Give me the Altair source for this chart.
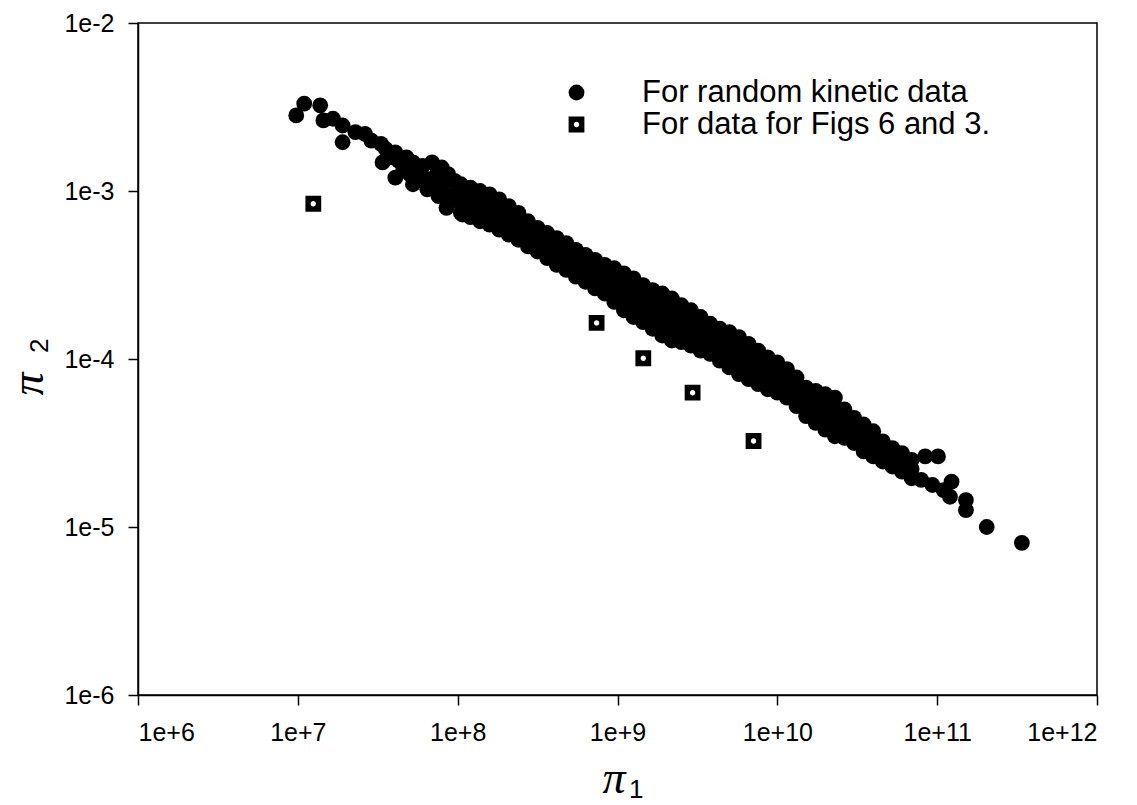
import altair as alt
import pandas as pd

# ---- data: log10(pi1), log10(pi2) ----
# isolated points and the start of the cloud (pi1 < 1e8)
random_early = [
    (6.99, -2.55), (7.04, -2.48), (7.14, -2.49), (7.16, -2.58), (7.22, -2.57),
    (7.28, -2.61), (7.28, -2.71), (7.36, -2.65), (7.42, -2.66), (7.46, -2.70),
    (7.52, -2.72), (7.55, -2.75), (7.53, -2.83), (7.61, -2.77), (7.63, -2.82),
    (7.61, -2.92), (7.66, -2.87), (7.72, -2.83), (7.72, -2.96), (7.77, -2.89),
    (7.84, -2.83), (7.81, -2.99), (7.84, -2.93), (7.90, -2.86), (7.90, -2.97),
    (7.93, -3.10), (7.96, -3.03), (7.98, -2.94), (8.03, -3.14), (7.58, -2.80),
    (7.68, -2.80), (7.70, -2.90), (7.78, -2.85), (7.80, -2.94), (7.87, -2.90),
    (7.88, -3.03), (7.94, -2.90), (7.94, -3.06), (7.99, -3.00),
]

# main cloud: one entry per pi1 column, with the pi2 values stacked there
random_band = [
    (8.02, [-2.96, -3.02, -3.075, -3.13]),
    (8.08, [-2.98, -3.04, -3.10, -3.155]),
    (8.14, [-3.00, -3.06, -3.12, -3.18]),
    (8.20, [-3.02, -3.08, -3.14, -3.20]),
    (8.26, [-3.05, -3.11, -3.17, -3.23]),
    (8.32, [-3.09, -3.15, -3.20, -3.26]),
    (8.38, [-3.13, -3.18, -3.24, -3.29]),
    (8.44, [-3.18, -3.23, -3.28, -3.33]),
    (8.50, [-3.22, -3.27, -3.31, -3.36]),
    (8.56, [-3.25, -3.30, -3.35, -3.40]),
    (8.62, [-3.28, -3.33, -3.39, -3.44]),
    (8.68, [-3.31, -3.36, -3.42, -3.47]),
    (8.74, [-3.35, -3.40, -3.46, -3.51]),
    (8.80, [-3.38, -3.43, -3.49, -3.54]),
    (8.86, [-3.41, -3.47, -3.52, -3.58]),
    (8.92, [-3.44, -3.50, -3.55, -3.61]),
    (8.98, [-3.46, -3.51, -3.56, -3.61, -3.66]),
    (9.04, [-3.49, -3.545, -3.60, -3.655, -3.71]),
    (9.10, [-3.52, -3.58, -3.64, -3.69, -3.75]),
    (9.16, [-3.56, -3.615, -3.67, -3.725, -3.78]),
    (9.22, [-3.59, -3.65, -3.71, -3.76, -3.82]),
    (9.28, [-3.61, -3.67, -3.73, -3.80, -3.86]),
    (9.34, [-3.64, -3.70, -3.76, -3.83, -3.89]),
    (9.40, [-3.68, -3.735, -3.79, -3.845, -3.90]),
    (9.46, [-3.71, -3.76, -3.815, -3.865, -3.92]),
    (9.52, [-3.75, -3.80, -3.85, -3.90, -3.95]),
    (9.58, [-3.79, -3.85, -3.91, -3.97]),
    (9.64, [-3.82, -3.885, -3.945, -4.01]),
    (9.70, [-3.84, -3.89, -3.945, -4.00, -4.05]),
    (9.76, [-3.87, -3.925, -3.98, -4.035, -4.09]),
    (9.82, [-3.91, -3.96, -4.015, -4.065, -4.12]),
    (9.88, [-3.95, -4.00, -4.05, -4.10, -4.15]),
    (9.94, [-3.99, -4.055, -4.115, -4.18]),
    (10.00, [-4.02, -4.08, -4.14, -4.20]),
    (10.06, [-4.06, -4.115, -4.17, -4.23]),
    (10.12, [-4.11, -4.17, -4.225, -4.28]),
    (10.18, [-4.17, -4.23, -4.285, -4.34]),
    (10.24, [-4.19, -4.255, -4.315, -4.38]),
    (10.30, [-4.21, -4.26, -4.315, -4.365, -4.42]),
    (10.36, [-4.23, -4.29, -4.345, -4.40, -4.46]),
    (10.42, [-4.30, -4.355, -4.41, -4.47]),
    (10.48, [-4.35, -4.40, -4.45, -4.50]),
    (10.54, [-4.39, -4.445, -4.50, -4.55]),
    (10.60, [-4.43, -4.48, -4.53, -4.58]),
    (10.66, [-4.49, -4.55, -4.61]),
    (10.72, [-4.53, -4.585, -4.64]),
    (10.78, [-4.56, -4.615, -4.67]),
    (10.84, [-4.60, -4.655, -4.71]),
    (10.90, [-4.72]),
]

# end of the cloud (pi1 > 8e10)
random_tail = [
    (10.925, -4.58), (11.005, -4.58), (10.97, -4.75), (11.04, -4.78),
    (11.09, -4.73), (11.08, -4.82), (11.18, -4.84), (11.18, -4.90),
    (11.31, -5.00), (11.53, -5.095),
]

# the five hollow squares (data for Figs 6 and 3)
figs_pi1 = [1.25e7, 7.4e8, 1.45e9, 2.95e9, 7.1e9]
figs_pi2 = [8.4e-4, 1.64e-4, 1.01e-4, 6.3e-5, 3.25e-5]

series_names = ["For random kinetic data", "For data for Figs 6 and 3."]
x_ticks = [1e6, 1e7, 1e8, 1e9, 1e10, 1e11, 1e12]
y_ticks = [1e-6, 1e-5, 1e-4, 1e-3, 1e-2]

rows = []
pairs = list(random_early)
for lx, ys in random_band:
    pairs += [(lx, ly) for ly in ys]
pairs += random_tail
for lx, ly in pairs:
    rows.append({"pi1": 10 ** lx, "pi2": 10 ** ly, "series": series_names[0]})
for a, b in zip(figs_pi1, figs_pi2):
    rows.append({"pi1": a, "pi2": b, "series": series_names[1]})
df = pd.DataFrame(rows)

# square with a small round hole in the middle
square_hole = ("M-1,-1H1V1H-1Z "
               "M-0.34,0A0.34,0.34,0,1,0,0.34,0A0.34,0.34,0,1,0,-0.34,0Z")

FONT = "Liberation Sans"

points = alt.Chart(df).mark_point(
    filled=True, color="black", opacity=1, size=250, strokeWidth=0
).encode(
    x=alt.X("pi1:Q",
            scale=alt.Scale(type="log", domain=[1e6, 1e12], nice=False),
            axis=alt.Axis(values=x_ticks, title=None, grid=False,
                          labelExpr="'1e+' + round(log(datum.value)/LN10)",
                          labelPadding=15)),
    y=alt.Y("pi2:Q",
            scale=alt.Scale(type="log", domain=[1e-6, 1e-2], nice=False),
            axis=alt.Axis(values=y_ticks, title=None, grid=False,
                          labelExpr="'1e' + round(log(datum.value)/LN10)",
                          labelPadding=14)),
    shape=alt.Shape("series:N",
                    scale=alt.Scale(domain=series_names,
                                    range=["circle", square_hole]),
                    legend=alt.Legend(title=None, orient="none",
                                      legendX=423, legendY=54,
                                      labelFontSize=31, labelFont=FONT,
                                      labelColor="black", labelLimit=0,
                                      labelOffset=50, symbolSize=250,
                                      symbolFillColor="black",
                                      symbolStrokeWidth=0, symbolOpacity=1,
                                      rowPadding=0)),
)

def label(txt, x, y, size, font, style="normal", angle=0, align="center",
          baseline="alphabetic"):
    kw = dict(fontSize=size, font=font, fontStyle=style, align=align,
              baseline=baseline, color="black")
    if angle:
        kw["angle"] = angle
    return alt.Chart(pd.DataFrame({"t": [txt]})).mark_text(**kw).encode(
        text="t:N", x=alt.value(x), y=alt.value(y))

x_title_pi = label("π", 476, 770, 46, "Liberation Serif", "italic")
x_title_sub = label("1", 491, 775, 26, FONT, align="left")
y_title_pi = label("π", -95, 361, 46, "Liberation Serif", "italic", angle=270)
y_title_sub = label("2", -90, 330, 26, FONT, angle=270, align="left")

chart = alt.layer(points, x_title_pi, x_title_sub, y_title_pi, y_title_sub).properties(
    width=959, height=672,
    autosize=alt.AutoSizeParams(type="none"),
    padding={"left": 138, "top": 23, "right": 40, "bottom": 110},
    background="white",
).configure_view(
    stroke="black", strokeWidth=1.5
).configure_axis(
    domainColor="black", domainWidth=1.5, tickColor="black", tickWidth=1.5,
    tickSize=10, labelFont=FONT, labelFontSize=25, labelColor="black",
)

chart.save("out.html", embed_options={"renderer": "svg", "actions": False})
